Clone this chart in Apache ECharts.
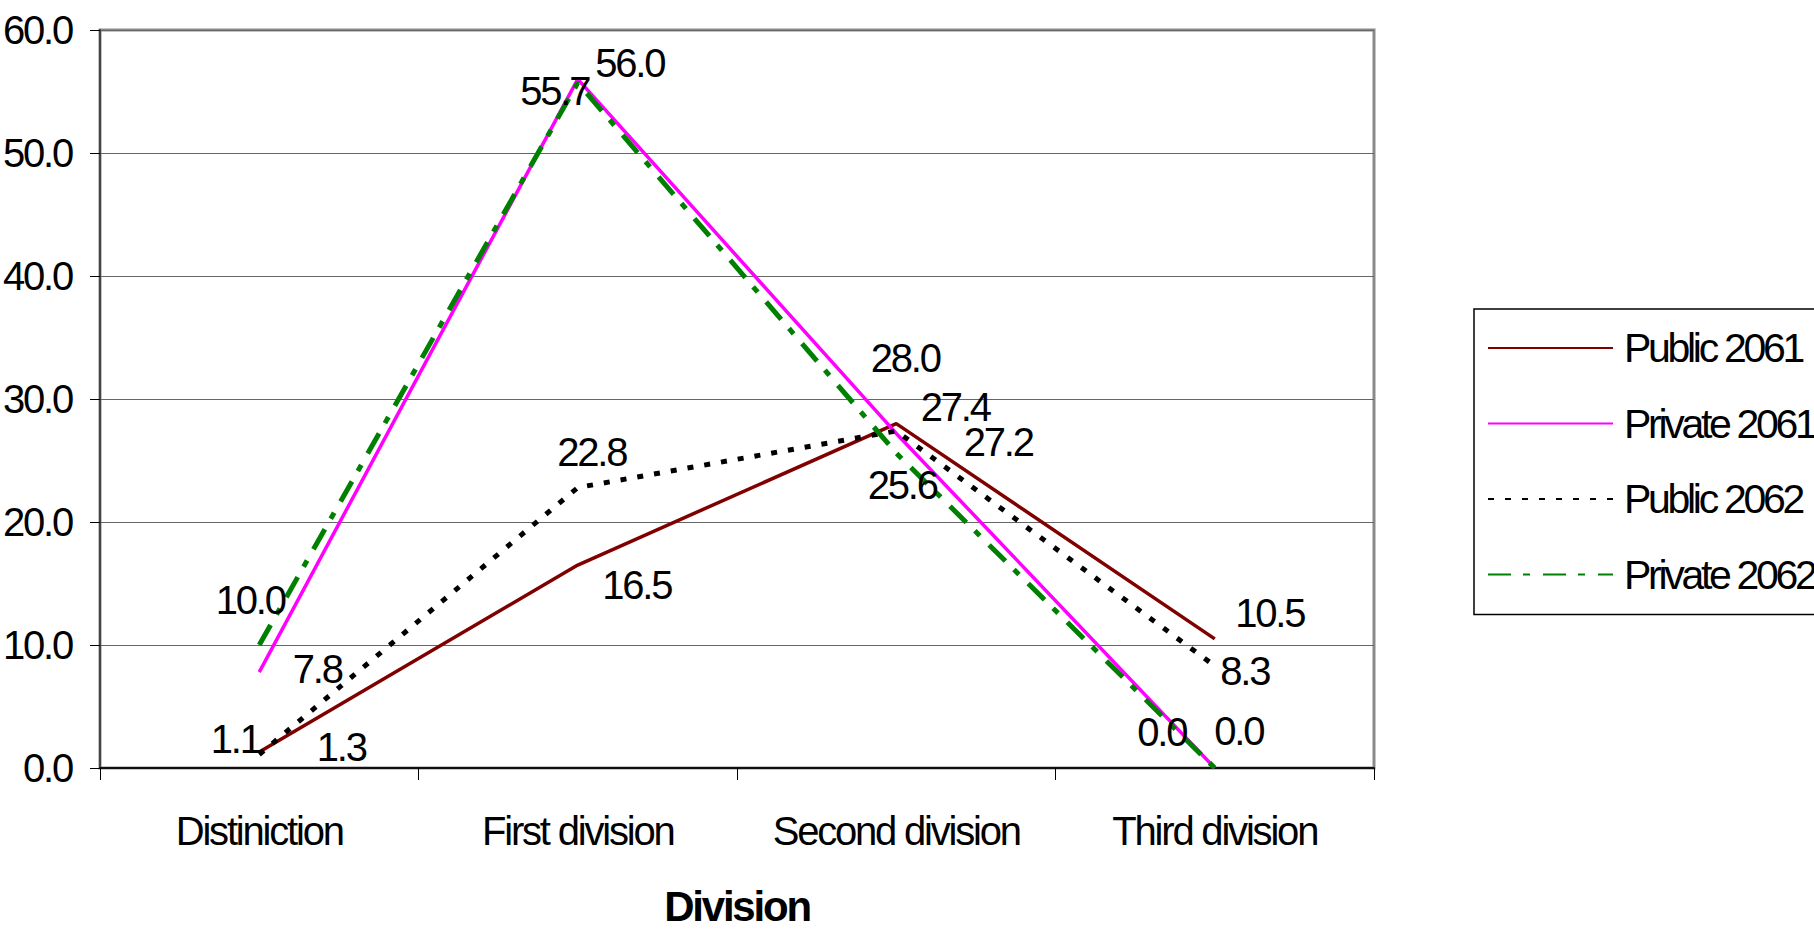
<!DOCTYPE html>
<html>
<head>
<meta charset="utf-8">
<script src="https://cdn.jsdelivr.net/npm/echarts@6/dist/echarts.min.js"></script>
<style>
html,body{margin:0;padding:0;background:#fff;}
#chart{width:1814px;height:931px;}
#chart svg text{letter-spacing:-2.2px !important;}
#chart svg text[style*="41px"], #chart svg text[font-size="41"], #chart svg text[font-size="41px"]{letter-spacing:-3.3px !important;}
</style>
</head>
<body>
<div id="chart"></div>
<script>
// ---- data ----
const categories = ['Distiniction', 'First division', 'Second division', 'Third division'];
const seriesNames = ['Public 2061', 'Private 2061', 'Public 2062', 'Private 2062'];
const public2061 = [1.3, 16.5, 28.0, 10.5];
const private2061 = [7.8, 56.0, 27.2, 0.0];
const public2062 = [1.1, 22.8, 27.4, 8.3];
const private2062 = [10.0, 55.7, 25.6, 0.0];
const yMin = 0, yMax = 60, yInterval = 10;

// ---- style (label placement, as in the reference) ----
const FONT = "'Liberation Sans', Arial, sans-serif";
const labelOffsets = [
  [[82, -5], [59, 20], [9, -66], [55, -26]],
  [[58, -3], [52, -16], [102, 9], [24, -37]],
  [[-24, -15], [14, -36], [59, -24], [30, 5]],
  [[-9, -45], [-23, 8], [6, 32], [-53, -36]]
];
const lineStyles = [
  { color: '#800000', width: 3.5, type: 'solid' },
  { color: '#FF00FF', width: 3.5, type: 'solid' },
  { color: '#000000', width: 5, type: [6, 11], cap: 'butt' },
  { color: '#008000', width: 5, type: [23, 12, 7, 13], cap: 'butt' }
];
const allValues = [public2061, private2061, public2062, private2062];

const series = allValues.map((vals, si) => ({
  name: seriesNames[si],
  type: 'line',
  symbol: 'circle',
  symbolSize: 1,
  showSymbol: true,
  itemStyle: { color: 'rgba(0,0,0,0)', borderWidth: 0 },
  lineStyle: lineStyles[si],
  emphasis: { disabled: true },
  animation: false,
  data: vals.map((v, i) => ({
    value: v,
    label: { offset: labelOffsets[si][i] }
  })),
  label: {
    show: true,
    position: 'inside',
    align: 'center',
    verticalAlign: 'middle',
    color: '#000',
    fontFamily: FONT,
    fontSize: 40,
    textBorderWidth: 0,
    formatter: p => Number(p.value).toFixed(1)
  }
}));

const chart = echarts.init(document.getElementById('chart'), null, { renderer: 'svg' });
chart.setOption({
  animation: false,
  backgroundColor: '#fff',
  grid: {
    left: 100, right: 440, top: 30, bottom: 163,
    outerBoundsMode: 'none',
    containLabel: false,
    show: true, borderColor: '#8a8a8a', borderWidth: 3, backgroundColor: 'transparent'
  },
  xAxis: {
    type: 'category',
    data: categories,
    boundaryGap: true,
    axisLine: { show: true, lineStyle: { color: '#111', width: 2 } },
    axisTick: { show: true, length: 12, interval: 0, lineStyle: { color: '#000', width: 1 } },
    axisLabel: { interval: 0, margin: 43, color: '#000', fontFamily: FONT, fontSize: 40 },
    name: 'Division',
    nameLocation: 'middle',
    nameGap: 119,
    nameTextStyle: { color: '#000', fontFamily: FONT, fontSize: 42, fontWeight: 'bold', lineHeight: 38 }
  },
  yAxis: {
    type: 'value',
    min: yMin, max: yMax, interval: yInterval,
    axisLine: { show: true, lineStyle: { color: '#444', width: 2 } },
    axisTick: { show: true, length: 10, lineStyle: { color: '#000', width: 1 } },
    axisLabel: { margin: 28, color: '#000', fontFamily: FONT, fontSize: 40, formatter: v => v.toFixed(1) },
    splitLine: { show: true, lineStyle: { color: '#666', width: 1 } }
  },
  legend: {
    orient: 'vertical',
    left: 1474, top: 309,
    data: seriesNames,
    itemWidth: 125,
    itemHeight: 14,
    itemGap: 27.5,
    padding: [15, 13, 16, 13],
    borderColor: '#000',
    borderWidth: 1.5,
    backgroundColor: '#fff',
    selectedMode: false,
    textStyle: { color: '#000', fontFamily: FONT, fontSize: 41, lineHeight: 48, padding: [0, 0, 0, 6] }
  },
  series: series
});
</script>
</body>
</html>
